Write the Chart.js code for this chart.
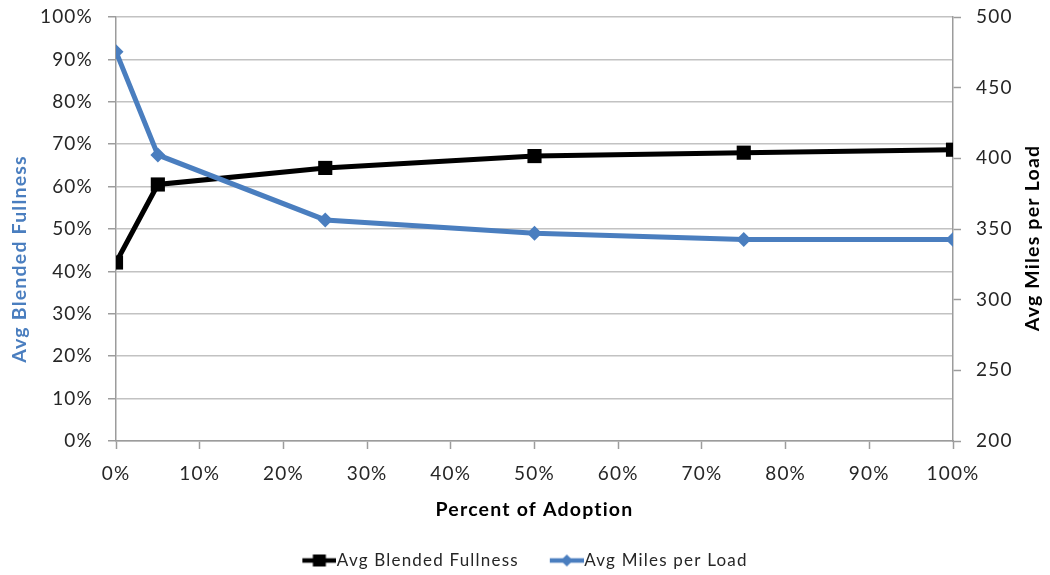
<!DOCTYPE html>
<html>
<head>
<meta charset="utf-8">
<script src="https://cdn.jsdelivr.net/npm/chart.js@4.4.1/dist/chart.umd.min.js"></script>
<style>
  html, body { margin: 0; padding: 0; background: #ffffff; }
  #wrap { width: 1050px; height: 575px; }
</style>
</head>
<body>
<div id="wrap"><canvas id="chart" width="1050" height="575"></canvas></div>
<script>
// Adoption levels (percent) and the two measured series
const adoption = [0, 5, 25, 50, 75, 100];
const blendedFullness = [42.1, 60.5, 64.4, 67.2, 68.0, 68.7];   // percent
const milesPerLoad = [475.5, 402.4, 356.4, 347.0, 342.6, 342.6];

// Axis ranges / tick steps
const xRange = [0, 100, 10];
const fullnessRange = [0, 100, 10];
const milesRange = [200, 500, 50];

const seriesNames = ['Avg Blended Fullness', 'Avg Miles per Load'];
const axisTitles = {
  x: 'Percent of Adoption',
  left: 'Avg Blended Fullness',
  right: 'Avg Miles per Load'
};

const BLACK = '#000000';
const BLUE = '#4a7ebf';
const GRID = '#c2c2c2';
const AXIS = '#9c9c9c';
const TEXT = '#262626';
const FONT = 'Lato, "Open Sans", sans-serif';
const SPACING = '1.2px';

const LEGEND_H = 54;
const PLOT_BOTTOM = 441;
const LINE_W = 5;

// Legend swatch: a short line with the series marker in the middle
function swatch(color, shape) {
  const c = document.createElement('canvas');
  c.width = 42; c.height = 16;
  const g = c.getContext('2d');
  g.strokeStyle = color; g.fillStyle = color; g.lineWidth = 4.5;
  g.beginPath(); g.moveTo(8, 8); g.lineTo(42, 8); g.stroke();
  const cx = 25;
  if (shape === 'square') {
    g.fillRect(cx - 6.5, 2, 13, 12);
  } else {
    g.beginPath();
    g.moveTo(cx, 2); g.lineTo(cx + 6, 8); g.lineTo(cx, 14); g.lineTo(cx - 6, 8);
    g.closePath(); g.fill();
  }
  return c;
}

// Slightly open letter spacing for every label the chart measures and draws
const textSpacing = {
  id: 'textSpacing',
  beforeInit(chart) { chart.ctx.letterSpacing = SPACING; },
  beforeUpdate(chart) { chart.ctx.letterSpacing = SPACING; },
  beforeDraw(chart) { chart.ctx.letterSpacing = SPACING; }
};

const fixedLegendHeight = {
  id: 'fixedLegendHeight',
  beforeInit(chart) {
    const fit = chart.legend.fit;
    chart.legend.fit = function () {
      fit.call(this);
      this.height = LEGEND_H;
    };
  }
};

// Vertical axis titles, both reading bottom-to-top
const sideTitles = {
  id: 'sideTitles',
  afterDraw(chart) {
    const ctx = chart.ctx;
    const draw = (text, color, x, y) => {
      ctx.save();
      ctx.letterSpacing = SPACING;
      ctx.textAlign = 'center';
      ctx.textBaseline = 'middle';
      ctx.font = 'bold 19.5px ' + FONT;
      ctx.fillStyle = color;
      ctx.translate(x, y);
      ctx.rotate(-Math.PI / 2);
      ctx.fillText(text, 0, 0);
      ctx.restore();
    };
    draw(axisTitles.left, BLUE, 20, 259);
    draw(axisTitles.right, BLACK, 1033, 238);
  }
};

const fixWidth = w => scale => {
  scale.width = w;
  scale.paddingTop = 0;
  scale.paddingBottom = 0;
};

const pct = v => v + '%';

new Chart(document.getElementById('chart'), {
  type: 'line',
  data: {
    datasets: [
      {
        label: seriesNames[0],
        data: adoption.map((x, i) => ({ x, y: blendedFullness[i] })),
        yAxisID: 'yLeft',
        borderColor: BLACK,
        backgroundColor: BLACK,
        borderWidth: LINE_W,
        pointStyle: 'rect',
        pointRadius: 10,
        pointHoverRadius: 10,
        pointBorderWidth: 0,
        tension: 0,
        order: 2
      },
      {
        label: seriesNames[1],
        data: adoption.map((x, i) => ({ x, y: milesPerLoad[i] })),
        yAxisID: 'yRight',
        borderColor: BLUE,
        backgroundColor: BLUE,
        borderWidth: LINE_W,
        pointStyle: 'rectRot',
        pointRadius: 7.5,
        pointHoverRadius: 7.5,
        pointBorderWidth: 0,
        tension: 0,
        order: 1
      }
    ]
  },
  options: {
    responsive: false,
    animation: false,
    events: [],
    layout: { padding: { top: 17, left: 0, right: 0, bottom: 0 } },
    scales: {
      x: {
        type: 'linear',
        position: 'bottom',
        min: xRange[0], max: xRange[1],
        afterFit(scale) { scale.height = 575 - PLOT_BOTTOM - LEGEND_H; },
        ticks: {
          stepSize: xRange[2],
          callback: pct,
          color: TEXT,
          font: { family: FONT, size: 19 },
          padding: 13,
          maxRotation: 0
        },
        grid: { drawOnChartArea: false, drawTicks: true, tickLength: 8, tickColor: AXIS, tickWidth: 1.5 },
        border: { color: AXIS, width: 1.5 },
        title: {
          display: true,
          text: axisTitles.x,
          color: BLACK,
          font: { family: FONT, size: 19.5, weight: 'bold' },
          padding: { top: 0, bottom: 0 }
        }
      },
      yLeft: {
        type: 'linear',
        position: 'left',
        min: fullnessRange[0], max: fullnessRange[1],
        afterFit: fixWidth(116),
        ticks: {
          stepSize: fullnessRange[2],
          callback: pct,
          color: TEXT,
          font: { family: FONT, size: 19 },
          padding: 15
        },
        grid: { color: GRID, lineWidth: 1.5, tickLength: 8, tickColor: AXIS, tickWidth: 1.5 },
        border: { color: AXIS, width: 1.5 }
      },
      yRight: {
        type: 'linear',
        position: 'right',
        min: milesRange[0], max: milesRange[1],
        afterFit: fixWidth(97),
        ticks: {
          stepSize: milesRange[2],
          color: TEXT,
          font: { family: FONT, size: 19 },
          padding: 15
        },
        grid: { drawOnChartArea: false, tickLength: 8, tickColor: AXIS, tickWidth: 1.5 },
        border: { color: AXIS, width: 1.5 }
      }
    },
    plugins: {
      tooltip: { enabled: false },
      legend: {
        position: 'bottom',
        labels: {
          color: TEXT,
          font: { family: FONT, size: 17 },
          usePointStyle: true,
          pointStyleWidth: 26,
          padding: 31,
          generateLabels(chart) {
            return chart.data.datasets.map((ds, i) => ({
              text: ds.label,
              datasetIndex: i,
              pointStyle: swatch(ds.borderColor, i === 0 ? 'square' : 'diamond'),
              fillStyle: ds.borderColor,
              strokeStyle: ds.borderColor,
              lineWidth: 0,
              fontColor: TEXT,
              hidden: false
            }));
          }
        }
      }
    }
  },
  plugins: [textSpacing, fixedLegendHeight, sideTitles]
});
</script>
</body>
</html>
